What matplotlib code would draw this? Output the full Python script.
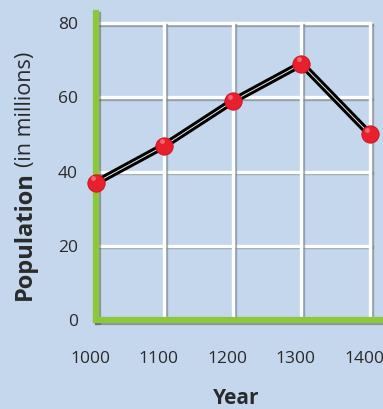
import matplotlib.pyplot as plt
import matplotlib.patheffects as pe
import matplotlib.transforms as mtransforms

years = [1000, 1100, 1200, 1300, 1400]
population = [37, 47, 59, 69, 50]
y_ticks = [0, 20, 40, 60, 80]

bg = '#c4d7ec'
green = '#8cc83c'
ink = '#2a2a2a'

fig = plt.figure(figsize=(3.83, 4.09), dpi=100, facecolor=bg)
W, H = 383, 409
ax = fig.add_axes([96 / W, (H - 320) / H, (W - 96) / W, (320 - 13) / H])
ax.set_facecolor(bg)
ax.set_xlim(1000, 1419)
ax.set_ylim(0, 82.7)

# white grid with soft grey shadow
shadow = [pe.SimpleLineShadow(offset=(1.2, -1.2), shadow_color='#7f8a96', alpha=0.7), pe.Normal()]
for y in y_ticks[1:]:
    ax.plot([1000, 1400], [y, y], color='white', lw=2.4, path_effects=shadow, zorder=1)
for x in years[1:]:
    ax.plot([x, x], [0, 80], color='white', lw=2.4, path_effects=shadow, zorder=1)

# data line: black tube with white highlight
ax.plot(years, population, color='black', lw=5, solid_capstyle='round',
        solid_joinstyle='round', zorder=3, clip_on=False)
ax.plot(years, population, color='#e8e8e8', lw=0.7, zorder=4, clip_on=False)
ax.plot(years, population, 'o', color='#e8202e', markersize=12.5,
        markeredgecolor='#c8101e', markeredgewidth=0.6, zorder=5, clip_on=False)
ax.plot([x - 4 for x in years], [p + 1.2 for p in population], 'o', color='#f27a80',
        markersize=3.5, markeredgewidth=0, alpha=0.8, zorder=6, clip_on=False)

for side in ['top', 'right']:
    ax.spines[side].set_visible(False)
for side in ['left', 'bottom']:
    ax.spines[side].set_color(green)
    ax.spines[side].set_linewidth(4.5)
    ax.spines[side].set_zorder(2)
    ax.spines[side].set_path_effects(
        [pe.SimpleLineShadow(offset=(1.5, -1.5), shadow_color='#555555', alpha=0.5), pe.Normal()])

ax.set_xticks(years)
ax.set_yticks(y_ticks)
ax.tick_params(length=0, colors=ink, labelsize=12.5, labelfontfamily='Open Sans')
ax.tick_params(axis='x', pad=22.5)
ax.tick_params(axis='y', pad=13)
shift = mtransforms.ScaledTranslation(-6 / 100, 0, fig.dpi_scale_trans)
for lab in ax.get_xticklabels():
    lab.set_transform(lab.get_transform() + shift)

fig.text(236 / W, 1 - 399 / H, 'Year', ha='center', va='center',
         fontsize=15, fontweight='bold', family='Open Sans', color=ink)
fig.text(25 / W, 1 - 300 / H, 'Population', rotation=90, ha='center', va='bottom',
         fontsize=17, fontweight='bold', family='Open Sans', color=ink)
fig.text(25 / W, 1 - 52 / H, '(in millions)', rotation=90, ha='center', va='top',
         fontsize=15.5, family='Open Sans', color=ink)

fig.savefig('out.png', dpi=100, facecolor=bg)
